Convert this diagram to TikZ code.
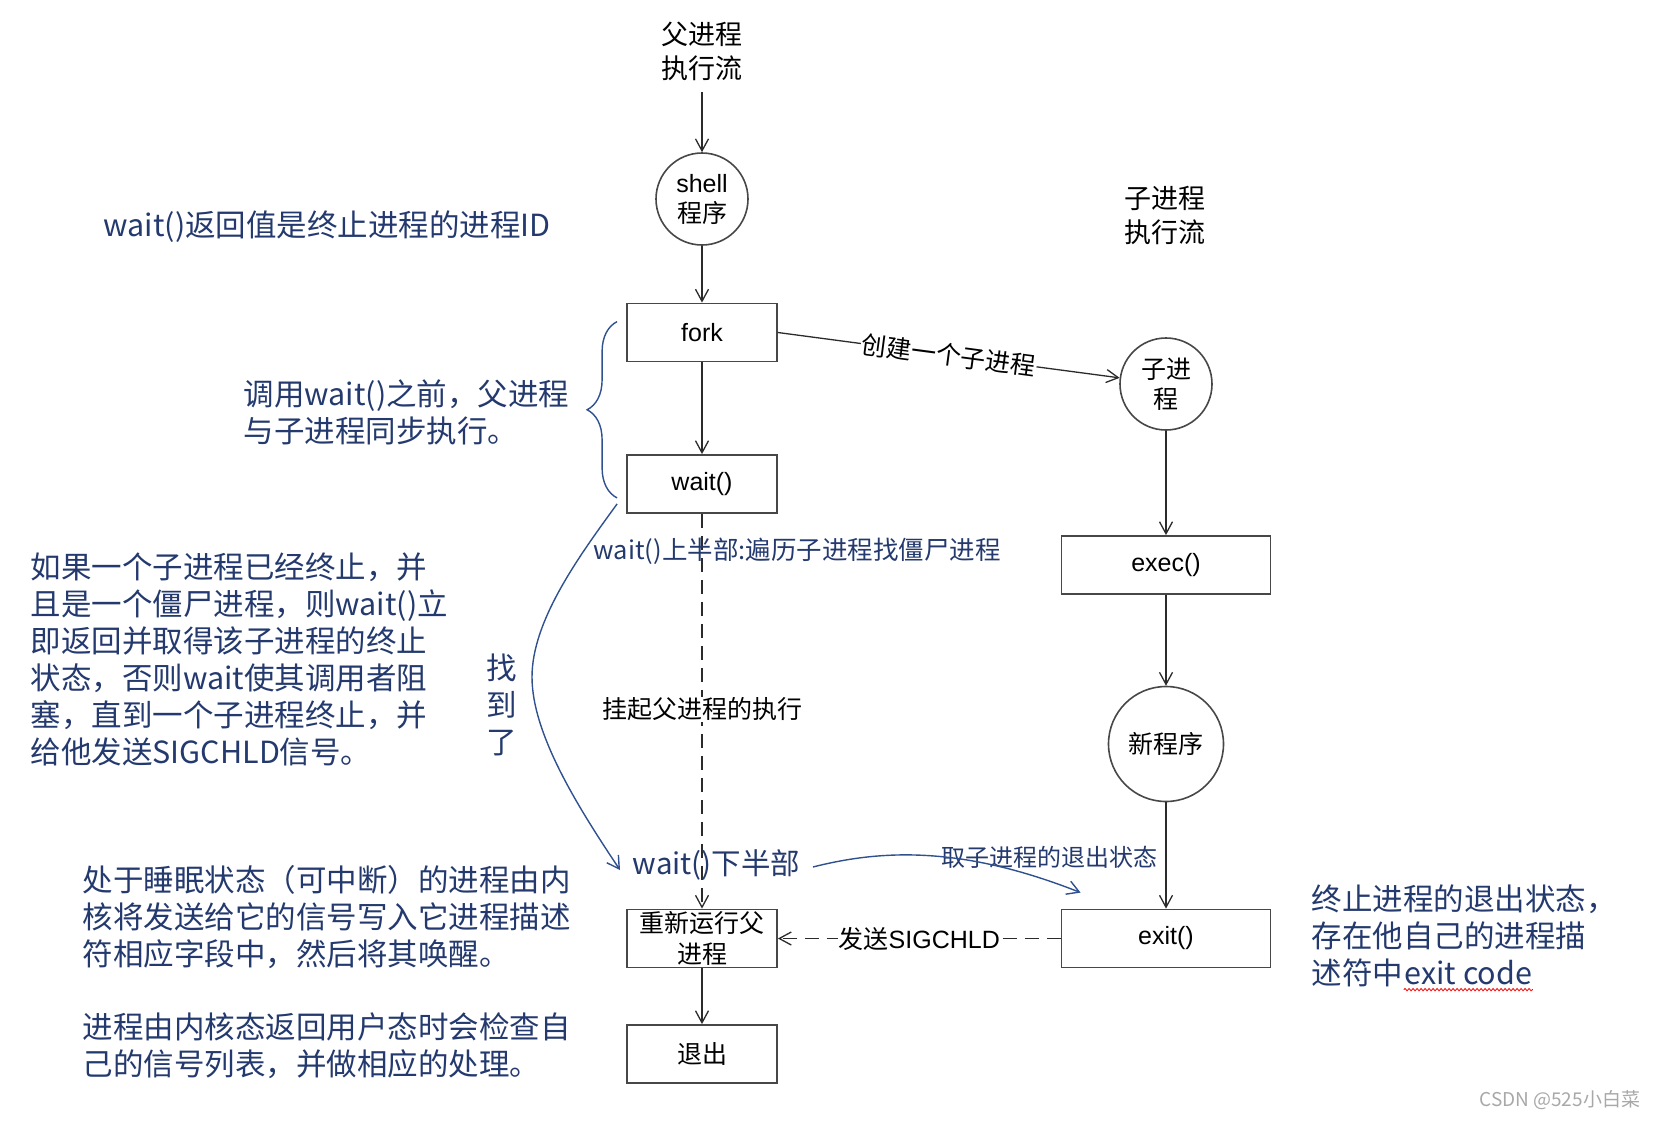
\documentclass[tikz,border=0pt]{standalone}
\usepackage{fontspec}
\setmainfont{Noto Sans CJK SC}
\newfontfamily\arialfont{Liberation Sans}
\usetikzlibrary{arrows.meta, calc, decorations.pathreplacing, decorations.pathmorphing}
\definecolor{cnavy}{HTML}{243A6E}
\definecolor{cblue}{HTML}{2F5190}
\definecolor{cline}{HTML}{2B2B2B}
\definecolor{cframe}{HTML}{474747}
\definecolor{cwater}{HTML}{A8A8A8}
\tikzset{
  every picture/.style={line width=1.3pt},
  proc/.style={draw=cframe, line width=1.8pt, minimum width=150pt, minimum height=58pt, inner sep=0pt, align=center, font=\fontsize{25}{31}\selectfont},
  wide/.style={proc, minimum width=209pt},
  ring/.style={draw=cframe, line width=1.6pt, circle, minimum size=#1, inner sep=0pt, align=center, font=\fontsize{25}{30}\selectfont},
  ring/.default=92pt,
  arrow/.style={-{Straight Barb[length=12pt, width=13pt]}, draw=cline},
  dashy/.style={dash pattern=on 14pt off 8pt},
  flow/.style={font=\fontsize{27}{34}\selectfont, align=center},
  tag/.style={font=\fontsize{25}{30}\selectfont, fill=white, inner sep=1pt},
  note/.style={font=\fontsize{30.5}{37}\selectfont, text=cnavy, align=left, inner sep=0pt, anchor=west},
  bluearrow/.style={-{Straight Barb[length=12pt, width=14pt]}, draw=cblue, line width=1.4pt},
}

\begin{document}
\begin{tikzpicture}[x=1pt, y=-1pt]
  \useasboundingbox (0,0) rectangle (1658,1120);
  % parent flow
  \node[flow] (pflow) at (702,51) {父进程\\执行流};
  \node[ring] (shell) at (702,199) {{\arialfont shell}\\程序};
  \node[proc] (fork) at (702,332.5) {\arialfont fork};
  \node[proc] (waitb) at (702,484) {\arialfont wait()};
  \node[proc] (redo) at (702,938.5) {重新运行父\\进程};
  \node[proc] (quit) at (702,1054) {退出};
  % child flow
  \node[flow] (cflow) at (1165,215) {子进程\\执行流};
  \node[ring] (child) at (1166,384) {子进\\程};
  \node[wide] (exec) at (1166,565) {\arialfont exec()};
  \node[ring=115pt] (newprog) at (1166,744) {新程序};
  \node[wide] (exitb) at (1166,938.5) {\arialfont exit()};

  \draw[arrow, shorten <=8pt] (pflow) -- (shell);
  \draw[arrow] (shell) -- (fork);
  \draw[arrow] (fork) -- (waitb);
  \draw[arrow, dashy] (waitb) -- (redo);
  \draw[arrow] (redo) -- (quit);
  \draw[arrow] (child) -- (exec);
  \draw[arrow] (exec) -- (newprog);
  \draw[arrow] (newprog) -- (exitb);
  \draw[arrow] (fork.east) -- node[tag, sloped, pos=0.5] {创建一个子进程} (child);
  \draw[arrow, dashy] (exitb) -- node[tag] {发送{\arialfont SIGCHLD}} (redo);

  % notes
  \node[note] (retid) at (103,227) {wait()返回值是终止进程的进程ID};
  \node[note] (sync) at (243,412) {调用wait()之前，父进程\\与子进程同步执行。};
  \node[note] (zombie) at (30,659.5) {如果一个子进程已经终止，并\\且是一个僵尸进程，则wait()立\\即返回并取得该子进程的终止\\状态，否则wait使其调用者阻\\塞，直到一个子进程终止，并\\给他发送SIGCHLD信号。};
  \node[note] (sleep) at (82,917) {处于睡眠状态（可中断）的进程由内\\核将发送给它的信号写入它进程描述\\符相应字段中，然后将其唤醒。};
  \node[note] (ret) at (82,1046) {进程由内核态返回用户态时会检查自\\己的信号列表，并做相应的处理。};
  \node[note, align=center, anchor=center] (found) at (502,705) {找\\到\\了};
  \node[note, font=\fontsize{25.5}{30}\selectfont] (uphalf) at (593,551) {wait()上半部:遍历子进程找僵尸进程};
  \node[tag] (hang) at (702,709.5) {挂起父进程的执行};
  \node[note, font=\fontsize{29.5}{36}\selectfont, inner sep=2pt] (lowhalf) at (630,865) {wait()下半部};
  \node[note, font=\fontsize{24}{30}\selectfont] (getstat) at (941,857.5) {取子进程的退出状态};
  \node[note] (ex1) at (1311,899) {终止进程的退出状态，};
  \node[note] (ex2) at (1311,936) {存在他自己的进程描};
  \node[note] (ex3) at (1311,973) {述符中};
  \node[note, anchor=base west] (code) at (ex3.base east) {exit code};
  \draw[red, line width=0.8pt, decorate, decoration={snake, segment length=4pt, amplitude=1.2pt}]
    ($(code.base west)+(0,5)$) -- ($(code.base east)+(0,5)$);
  \node[font=\fontsize{19}{22}\selectfont, text=cwater, anchor=east] (mark) at (1644,1100) {CSDN @525小白菜};

  % blue marks
  \draw[cblue, line width=1.4pt, decorate, decoration={brace, amplitude=30pt}]
    ($(waitb.south west)+(-9,-16)$) -- ($(fork.north west)+(-9,19)$);
  \draw[bluearrow] ($(waitb.south west)+(-9,-10)$) .. controls (580,555) and (532,620) .. (532,677)
    .. controls (532,735) and (580,810) .. ($(lowhalf.west)+(-10,5)$);
  \draw[bluearrow] ($(lowhalf.east)+(10,2)$) .. controls (880,850) and (960,845) .. ($(exitb.north west)+(20,-16)$);
\end{tikzpicture}
\end{document}
